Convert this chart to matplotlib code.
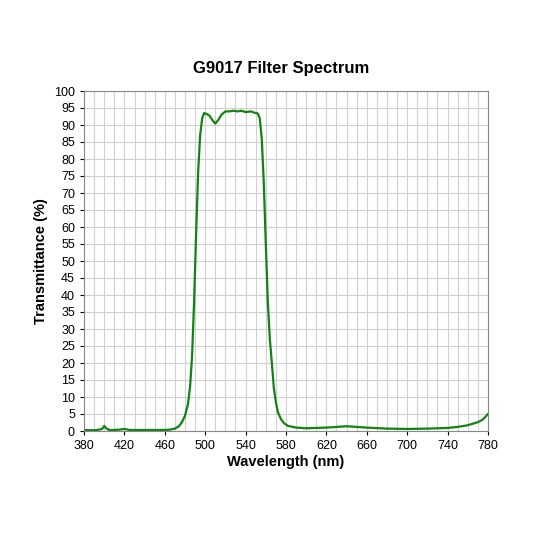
import matplotlib
matplotlib.use("Agg")
import matplotlib.pyplot as plt
import numpy as np

plt.rcParams['font.family'] = ['Liberation Sans', 'DejaVu Sans']

wavelength = [380, 390, 395, 398, 400, 402, 405, 410, 415, 420, 425, 430, 440, 450, 460, 465, 470, 474, 477, 480, 483, 485, 487, 489, 491, 493, 495, 497, 499, 501, 504, 507, 510, 513, 516, 520, 524, 528, 532, 536, 540, 545, 549, 552, 554, 556, 558, 560, 562, 564, 566, 568, 570, 572, 575, 578, 582, 590, 600, 620, 640, 660, 680, 700, 720, 740, 750, 760, 770, 775, 780]
transmittance = [0.3, 0.2, 0.4, 0.6, 1.5, 0.8, 0.3, 0.3, 0.4, 0.6, 0.3, 0.3, 0.3, 0.3, 0.3, 0.4, 0.7, 1.4, 2.6, 4.5, 8, 13, 22, 38, 58, 76, 87, 92, 93.5, 93.3, 92.8, 91.5, 90.4, 91.5, 93.0, 94.0, 94.0, 94.2, 94.0, 94.2, 93.8, 94.0, 93.6, 93.4, 92.0, 86, 73, 55, 38, 27, 20, 12.5, 8.5, 5.5, 3.5, 2.3, 1.5, 1.0, 0.8, 1.0, 1.4, 1.0, 0.7, 0.6, 0.7, 0.9, 1.2, 1.7, 2.6, 3.4, 5.0]

fig = plt.figure(figsize=(5.33, 5.33), dpi=100)
ax = fig.add_axes([84/533, 1-431/533, 404/533, 340/533])
ax.plot(wavelength, transmittance, color="#128212", lw=1.6)
ax.set_xlim(380, 780)
ax.set_ylim(0, 100)
ax.set_xticks(np.arange(380, 781, 40))
ax.set_xticks(np.arange(380, 781, 10), minor=True)
ax.set_yticks(np.arange(0, 101, 5))
ax.grid(True, which="both", color="#d0d0d0", lw=0.8)
ax.tick_params(which="minor", length=0)
ax.tick_params(which="major", length=3, labelsize=9)
for s in ax.spines.values():
    s.set_color("#888888")
ax.set_xlabel("Wavelength (nm)", fontsize=10.5, fontweight="bold", labelpad=2)
ax.set_ylabel("Transmittance (%)", fontsize=10.5, fontweight="bold")
fig.text(281/533, 1-68/533, "G9017 Filter Spectrum", ha="center", va="center", fontsize=12, fontweight="bold")
fig.savefig("out.png", dpi=100)
